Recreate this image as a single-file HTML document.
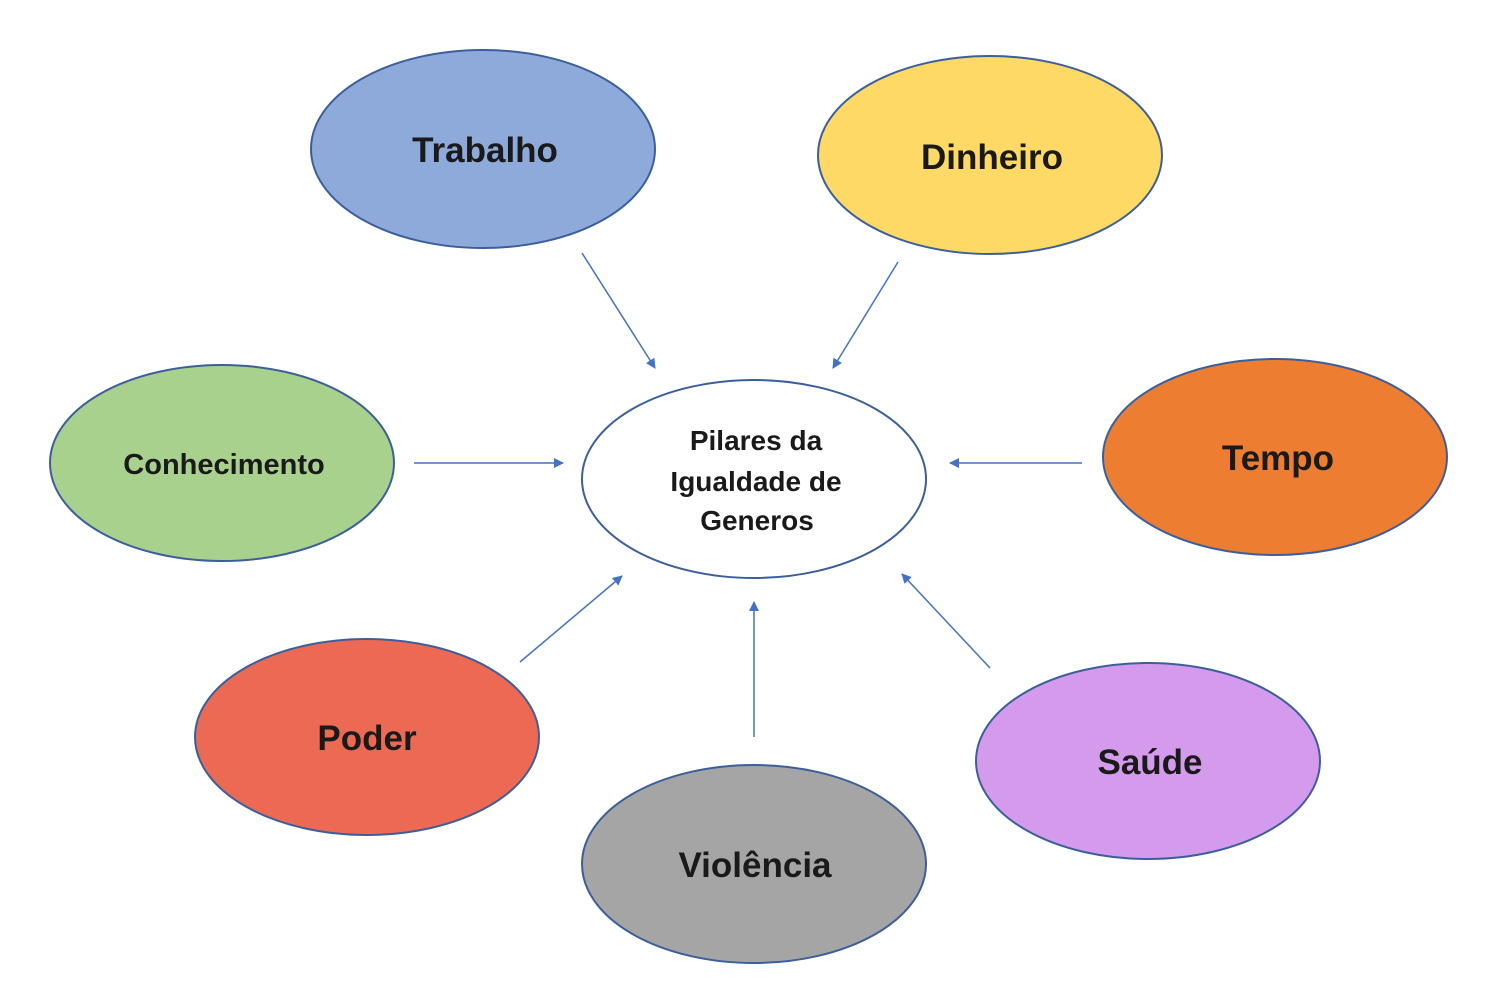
<!DOCTYPE html>
<html><head><meta charset="utf-8"><style>
html,body{margin:0;padding:0;background:#fff;}
svg{display:block;}
text{font-family:"Liberation Sans",sans-serif;font-weight:bold;fill:#1a1a1a;text-anchor:middle;}
</style></head><body>
<svg width="1500" height="1000" viewBox="0 0 1500 1000">
<defs>
<marker id="a" markerWidth="10" markerHeight="10" refX="9" refY="5" orient="auto" markerUnits="userSpaceOnUse">
<path d="M0,0 L10,5 L0,10 z" fill="#4472c4"/>
</marker>
</defs>
<g stroke="#3c5f9c" stroke-width="2">
<ellipse cx="483" cy="149" rx="172" ry="99" fill="#8eaadb"/>
<ellipse cx="990" cy="155" rx="172" ry="99" fill="#ffd966"/>
<ellipse cx="222" cy="463" rx="172" ry="98" fill="#a9d18e"/>
<ellipse cx="754" cy="479" rx="172" ry="99" fill="#ffffff"/>
<ellipse cx="1275" cy="457" rx="172" ry="98" fill="#ed7d31"/>
<ellipse cx="367" cy="737" rx="172" ry="98" fill="#ec6a54"/>
<ellipse cx="754" cy="864" rx="172" ry="99" fill="#a5a5a5"/>
<ellipse cx="1148" cy="761" rx="172" ry="98" fill="#d49bec"/>
</g>
<g stroke="#4472c4" stroke-width="1.5" marker-end="url(#a)">
<line x1="582" y1="253" x2="655" y2="368"/>
<line x1="898" y1="262" x2="833" y2="368"/>
<line x1="414" y1="463" x2="563" y2="463"/>
<line x1="1082" y1="463" x2="950" y2="463"/>
<line x1="520" y1="662" x2="622" y2="576"/>
<line x1="754" y1="737" x2="754" y2="602"/>
<line x1="990" y1="668" x2="902" y2="574"/>
</g>
<text x="485" y="162" font-size="35">Trabalho</text>
<text x="992" y="169" font-size="35">Dinheiro</text>
<text x="224" y="474" font-size="29">Conhecimento</text>
<text x="1278" y="470" font-size="35">Tempo</text>
<text x="367" y="750" font-size="35">Poder</text>
<text x="755" y="877" font-size="35">Violência</text>
<text x="1150" y="774" font-size="35">Saúde</text>
<text x="756" y="450" font-size="28">Pilares da</text>
<text x="756" y="491" font-size="28">Igualdade de</text>
<text x="757" y="530" font-size="28">Generos</text>
</svg>
</body></html>
